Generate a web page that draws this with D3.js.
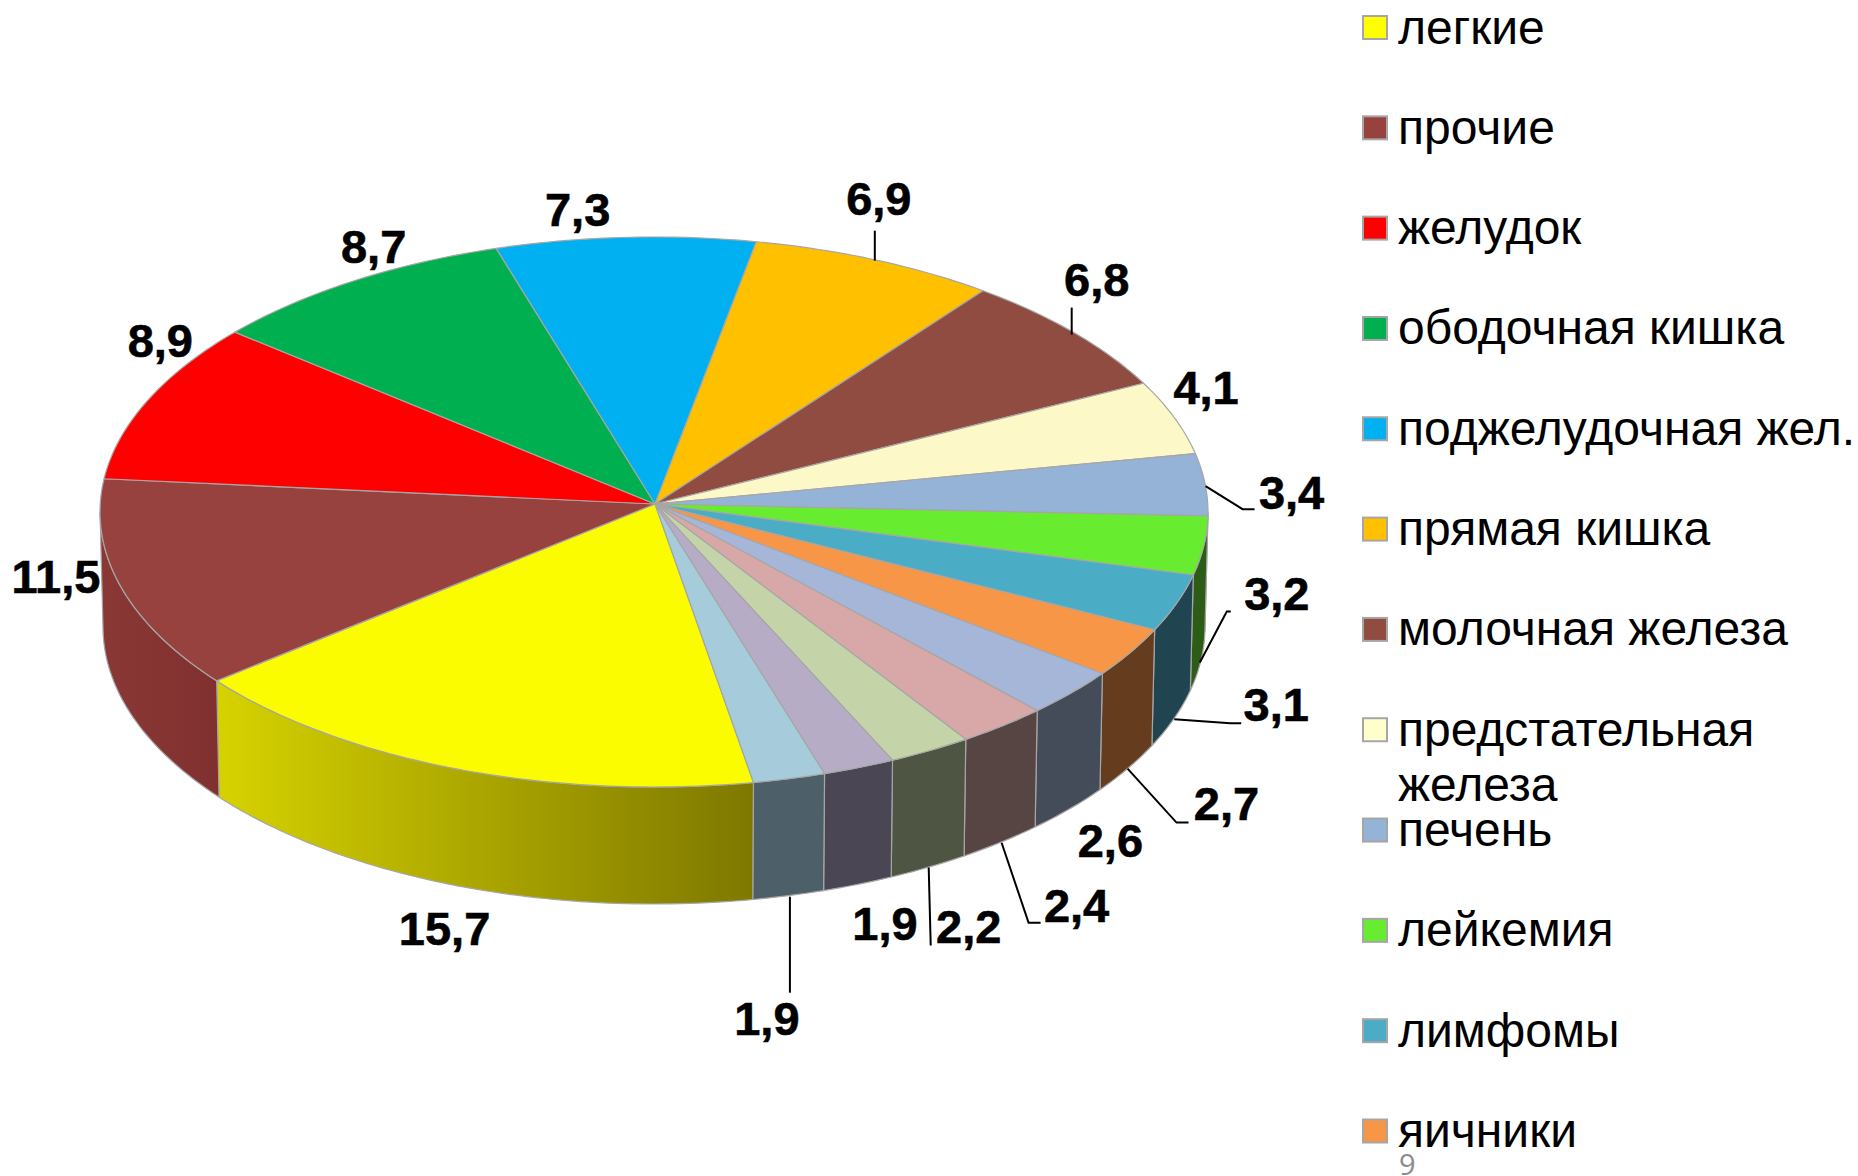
<!DOCTYPE html>
<html lang="ru">
<head>
<meta charset="utf-8">
<title>Pie</title>
<script src="https://cdn.jsdelivr.net/npm/d3@7/dist/d3.min.js"></script>
<style>
  html, body { margin: 0; padding: 0; background: #fff; }
  svg { display: block; }
  text { font-family: "Liberation Sans", Arial, sans-serif; fill: #000; }
</style>
</head>
<body>
<div id="chart"></div>
<script>
// only the first 12 names are visible in the legend, the rest are cut off by the slide
const legendNames = ["легкие", "прочие", "желудок", "ободочная кишка", "поджелудочная жел.", "прямая кишка",
    "молочная железа", ["предстательная", "железа"], "печень", "лейкемия", "лимфомы", "яичники"];
const values = [15.7, 11.5, 8.9, 8.7, 7.3, 6.9, 6.8, 4.1, 3.4, 3.2, 3.1, 2.7, 2.6, 2.4, 2.2, 1.9, 1.9];

const topColors = ["#fcfc00", "#984240", "#ff0000", "#00b050", "#00b0f0", "#ffc000", "#914c41", "#fcf8c8", "#95b3d7",
    "#68ec30", "#4bacc6", "#f79646", "#a6b6d8", "#d8a8a8", "#c4d4a8", "#b6acc6", "#a6cbda"];
const legendColors = ["#ffff00", "#984240", "#ff0000", "#00b050", "#00b0f0", "#ffc000", "#914c41", "#ffffcc", "#95b3d7",
    "#68ec30", "#4bacc6", "#f79646"];
const sideColors = ["url(#wallYellow)", "url(#wallBrown)", "#a00", "#060", "#06a", "#a80", "#633", "#aa8", "#567",
    "#2c5c16", "#204550", "#653c1e", "#444b59", "#574544", "#4f5543", "#4a4653", "#4d5f68"];

// label and leader placement relative to the slice's anchor on the rim
const labelOffsets = [[-22, 43], [-70, -17], [21, -68], [32, -36], [-43, -26], [0, -60], [16, -55], [27, -35], [85, 2],
    [78, -73], [107, -19], [105, 32], [48, 30], [82, 63], [45, 60], [30, 41], [-21, 125]];
const leaders = [null, null, null, null, null, [[-4, 0], [-4, -30]], [[-9, -2], [-9, -29]], null,
    [[-1, -6], [36, 17], [48, 17]], [[1, -6], [28, -57], [32, -57]], [[5, -6], [61, -2], [72, -2]],
    [[6, -5], [55, 49], [67, 49]], null, [[7, -2], [34, 78], [46, 78]], [[5, -1], [7, 77]], null, [[2, 1], [2, 97]]];

const width = 1858, height = 1176;
const apex = [655, 504];
const topRim = {cx: 654, cy: 512, rx: 554, ry: 275};
const bottomRim = {cx: 654, cy: 627, rx: 551, ry: 277};
const startAngle = 170 * Math.PI / 180;
const format = d3.format(".1f");

const svg = d3.select("#chart").append("svg")
    .attr("width", width)
    .attr("height", height);

const defs = svg.append("defs");
function wallGradient(id, x1, x2, from, to) {
    const g = defs.append("linearGradient")
        .attr("id", id)
        .attr("gradientUnits", "userSpaceOnUse")
        .attr("x1", x1).attr("x2", x2).attr("y1", 0).attr("y2", 0);
    g.append("stop").attr("offset", 0).attr("stop-color", from);
    g.append("stop").attr("offset", 1).attr("stop-color", to);
}
wallGradient("wallYellow", 218, 754, "#d6d200", "#7e7800");
wallGradient("wallBrown", 103, 218, "#8a3835", "#80302f");

function rimPoint(rim, a) {
    return [rim.cx + rim.rx * Math.sin(a), rim.cy - rim.ry * Math.cos(a)];
}
// the 3d view squeezes the angles a little: the far side and the left gain, the right loses
function warp(a) {
    return a - 0.035 * Math.sin(a);
}
function arcAngles(a0, a1) {
    const n = Math.max(2, Math.ceil((a1 - a0) * 60));
    return d3.range(n + 1).map(i => a0 + (a1 - a0) * i / n);
}

const pie = d3.pie().sort(null).startAngle(startAngle).endAngle(startAngle + 2 * Math.PI);
const slices = pie(values);
const line = d3.line();

// side walls, only the part of the rim facing the viewer (90..270 deg)
const wallFrom = Math.PI / 2, wallTo = 3 * Math.PI / 2;
slices.forEach(function(d, i) {
    [0, -2 * Math.PI].forEach(function(turn) {
        const a0 = Math.max(warp(d.startAngle) + turn, wallFrom);
        const a1 = Math.min(warp(d.endAngle) + turn, wallTo);
        if (a1 <= a0) return;
        const angles = arcAngles(a0, a1);
        const pts = angles.map(a => rimPoint(topRim, a)).concat(angles.slice().reverse().map(a => rimPoint(bottomRim, a)));
        svg.append("path")
            .attr("d", line(pts) + "Z")
            .attr("fill", sideColors[i])
            .attr("stroke", "#a6a6a6")
            .attr("stroke-width", 1.2)
            .attr("stroke-linejoin", "round");
    });
});

// top face
svg.append("g").selectAll("path")
    .data(slices)
    .join("path")
    .attr("d", d => line([apex].concat(arcAngles(warp(d.startAngle), warp(d.endAngle)).map(a => rimPoint(topRim, a)))) + "Z")
    .attr("fill", (d, i) => topColors[i])
    .attr("stroke", "#a6a6a6")
    .attr("stroke-width", 1.2)
    .attr("stroke-linejoin", "round");

// anchor on the bottom rim for the front slices, on the top rim for the others
function anchorOf(d) {
    const mid = (d.startAngle + d.endAngle) / 2 - 0.4 * Math.PI / 180;
    const deg = (mid * 180 / Math.PI) % 360;
    return rimPoint(deg > 90 && deg < 250 ? bottomRim : topRim, mid);
}

slices.forEach(function(d, i) {
    const a = anchorOf(d);
    if (leaders[i]) {
        svg.append("path")
            .attr("d", line(leaders[i].map(p => [a[0] + p[0], a[1] + p[1]])))
            .attr("fill", "none")
            .attr("stroke", "#000")
            .attr("stroke-width", 2);
    }
    svg.append("text")
        .attr("x", a[0] + labelOffsets[i][0])
        .attr("y", a[1] + labelOffsets[i][1] + 14.5)
        .attr("text-anchor", "middle")
        .attr("font-size", 47)
        .attr("font-weight", "bold")
        .style("stroke", "#000")
        .style("stroke-width", 0.6)
        .text(format(d.value).replace(".", ","));
});

// legend
const legendY = d3.scalePoint().domain(d3.range(legendNames.length)).range([27.5, 1131]);
const legend = svg.append("g").selectAll("g")
    .data(legendNames)
    .join("g")
    .attr("transform", (d, i) => "translate(1362," + legendY(i) + ")");

legend.append("rect")
    .attr("x", 1)
    .attr("y", -11.5)
    .attr("width", 24)
    .attr("height", 23)
    .attr("fill", (d, i) => legendColors[i])
    .attr("stroke", "#a6a6a6")
    .attr("stroke-width", 2);

legend.append("text")
    .attr("y", 16)
    .attr("font-size", 48)
    .each(function(d) {
        const rows = Array.isArray(d) ? d : [d];
        d3.select(this).selectAll("tspan")
            .data(rows)
            .join("tspan")
            .attr("x", 36)
            .attr("dy", (r, j) => j ? 55 : 0)
            .text(r => r);
    });

// slide number
svg.append("text")
    .attr("x", 1399)
    .attr("y", 1175)
    .attr("font-size", 29)
    .style("font-family", "'Open Sans', sans-serif")
    .style("fill", "#8b8b8b")
    .text("9");
</script>
</body>
</html>
